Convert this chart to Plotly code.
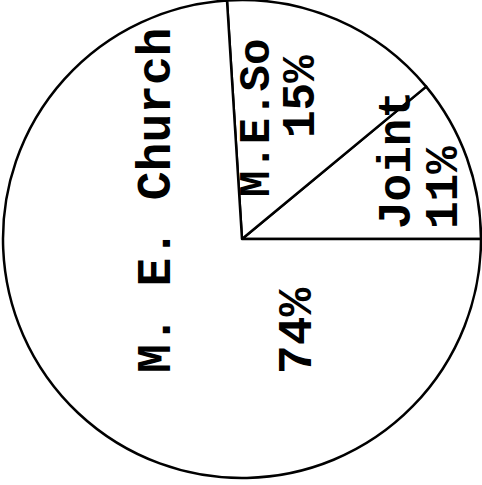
import plotly.graph_objects as go

# Data
labels = ["Joint", "M.E.So", "M. E. Church"]
values = [11, 15, 74]
pct_labels = ["11%", "15%", "74%"]

W, H = 482, 485
ML, MR, MT, MB = 3, 1, 0, 7
PW, PH = W - ML - MR, H - MT - MB

def px2paper(x, y):
    return (x - ML) / PW, 1 - (y - MT) / PH

fig = go.Figure(go.Pie(
    labels=labels,
    values=values,
    sort=False,
    direction="counterclockwise",
    rotation=50.4,
    textinfo="none",
    hoverinfo="label+percent",
    marker=dict(colors=["white"] * 3, line=dict(color="black", width=2.5)),
    showlegend=False,
))

font = dict(family="Liberation Mono, Courier New, monospace", size=46, color="black", weight="bold")

# label placements (pixel centres) for name and percentage text of each slice
name_pos = [(398, 160), (257, 118), (157, 200)]
pct_pos = [(445, 188), (302, 97), (298, 331)]
name_sizes = [46, 44, 48]
pct_sizes = [46, 46, 48]

for i in range(len(labels)):
    for txt, (x, y), s in ((labels[i], name_pos[i], name_sizes[i]), (pct_labels[i], pct_pos[i], pct_sizes[i])):
        ax, ay = px2paper(x, y)
        fig.add_annotation(x=ax, y=ay, xref="paper", yref="paper", text=txt,
                           showarrow=False, textangle=-90,
                           font=dict(font, size=s), xanchor="center", yanchor="middle")

fig.update_layout(
    width=W, height=H,
    margin=dict(l=ML, r=MR, t=MT, b=MB),
    paper_bgcolor="white", plot_bgcolor="white",
)
fig.write_html("out.html", config={"displayModeBar": False},
               post_script="document.body.style.margin='0';")
